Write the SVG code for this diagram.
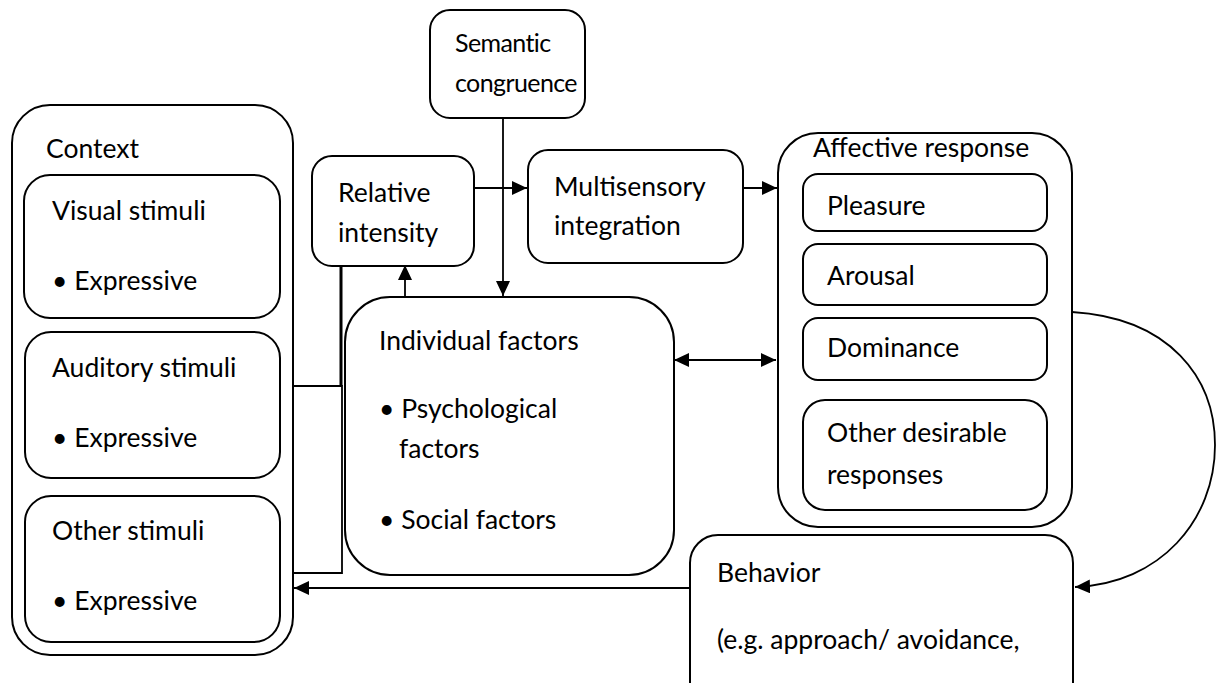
<svg xmlns="http://www.w3.org/2000/svg" width="1216" height="683" viewBox="0 0 1216 683">
  <defs>
    <style>
      .box { fill: #fff; stroke: #000; stroke-width: 2; }
      .ln { fill: none; stroke: #000; stroke-width: 1.8; }
      .thick { fill: none; stroke: #000; stroke-width: 3; }
      text { font-family: Lato, "Open Sans", "Liberation Sans", sans-serif; font-size: 26.5px; fill: #000; }
      .tight { font-size: 25px; letter-spacing: -0.6px; }
    </style>
    <marker id="arr" markerUnits="userSpaceOnUse" markerWidth="16" markerHeight="14" refX="15" refY="7" orient="auto-start-reverse">
      <path d="M0,0 L15,7 L0,14 Z" fill="#000"/>
    </marker>
  </defs>

  <!-- connectors -->
  <g id="connectors">
    <line class="ln" x1="474" y1="188" x2="527" y2="188" marker-end="url(#arr)"/>
    <line class="ln" x1="743" y1="188" x2="777" y2="188" marker-end="url(#arr)"/>
    <line class="ln" x1="503" y1="118" x2="503" y2="296" marker-end="url(#arr)"/>
    <line class="ln" x1="405" y1="297" x2="405" y2="265" marker-end="url(#arr)"/>
    <line class="ln" x1="674" y1="360" x2="776" y2="360" marker-start="url(#arr)" marker-end="url(#arr)"/>
    <polyline class="thick" points="393,264 341,264 341,386"/>
    <polyline class="ln" points="293,386 342,386 342,573 292,573"/>
    <line class="ln" x1="690" y1="588" x2="294" y2="588" marker-end="url(#arr)"/>
    <path class="ln" d="M1072,312 C1170,318 1215,378 1215,445 C1215,520 1160,584 1075,587" marker-end="url(#arr)"/>
  </g>

  <!-- Context -->
  <g id="context">
    <rect class="box" x="12" y="105" width="281" height="550" rx="38"/>
    <text x="46" y="158">Context</text>
    <g id="visual">
      <rect class="box" x="24" y="175" width="256" height="143" rx="26"/>
      <text x="52" y="220">Visual stimuli</text>
      <text x="52" y="290">• Expressive</text>
    </g>
    <g id="auditory">
      <rect class="box" x="25" y="332" width="255" height="146" rx="26"/>
      <text x="52" y="377">Auditory stimuli</text>
      <text x="52" y="447">• Expressive</text>
    </g>
    <g id="other-stimuli">
      <rect class="box" x="25" y="496" width="255" height="146" rx="26"/>
      <text x="52" y="540">Other stimuli</text>
      <text x="52" y="610">• Expressive</text>
    </g>
  </g>

  <g id="semantic">
    <rect class="box" x="430" y="10" width="155" height="108" rx="20"/>
    <text class="tight" x="455" y="52">Semantic</text>
    <text class="tight" x="455" y="92">congruence</text>
  </g>

  <g id="relative">
    <rect class="box" x="312" y="156" width="162" height="110" rx="20"/>
    <text x="338" y="202">Relative</text>
    <text x="338" y="242">intensity</text>
  </g>

  <g id="multisensory">
    <rect class="box" x="528" y="150" width="215" height="113" rx="20"/>
    <text x="554" y="196">Multisensory</text>
    <text x="554" y="235">integration</text>
  </g>

  <g id="individual">
    <rect class="box" x="345" y="297" width="329" height="278" rx="45"/>
    <text x="379" y="350">Individual factors</text>
    <text x="379" y="418">• Psychological</text>
    <text x="399" y="458">factors</text>
    <text x="379" y="529">• Social factors</text>
  </g>

  <g id="affective">
    <rect class="box" x="778" y="133" width="294" height="394" rx="40"/>
    <text x="813" y="157">Affective response</text>
    <g id="pleasure">
      <rect class="box" x="803" y="174" width="244" height="57" rx="15"/>
      <text x="827" y="215">Pleasure</text>
    </g>
    <g id="arousal">
      <rect class="box" x="803" y="244" width="244" height="61" rx="15"/>
      <text x="827" y="285">Arousal</text>
    </g>
    <g id="dominance">
      <rect class="box" x="803" y="318" width="244" height="62" rx="15"/>
      <text x="827" y="357">Dominance</text>
    </g>
    <g id="other-responses">
      <rect class="box" x="803" y="400" width="244" height="110" rx="22"/>
      <text x="827" y="442">Other desirable</text>
      <text x="827" y="484">responses</text>
    </g>
  </g>

  <g id="behavior">
    <rect class="box" x="690" y="535" width="383" height="190" rx="28"/>
    <text x="717" y="582">Behavior</text>
    <text x="717" y="649">(e.g. approach/ avoidance,</text>
  </g>
</svg>
